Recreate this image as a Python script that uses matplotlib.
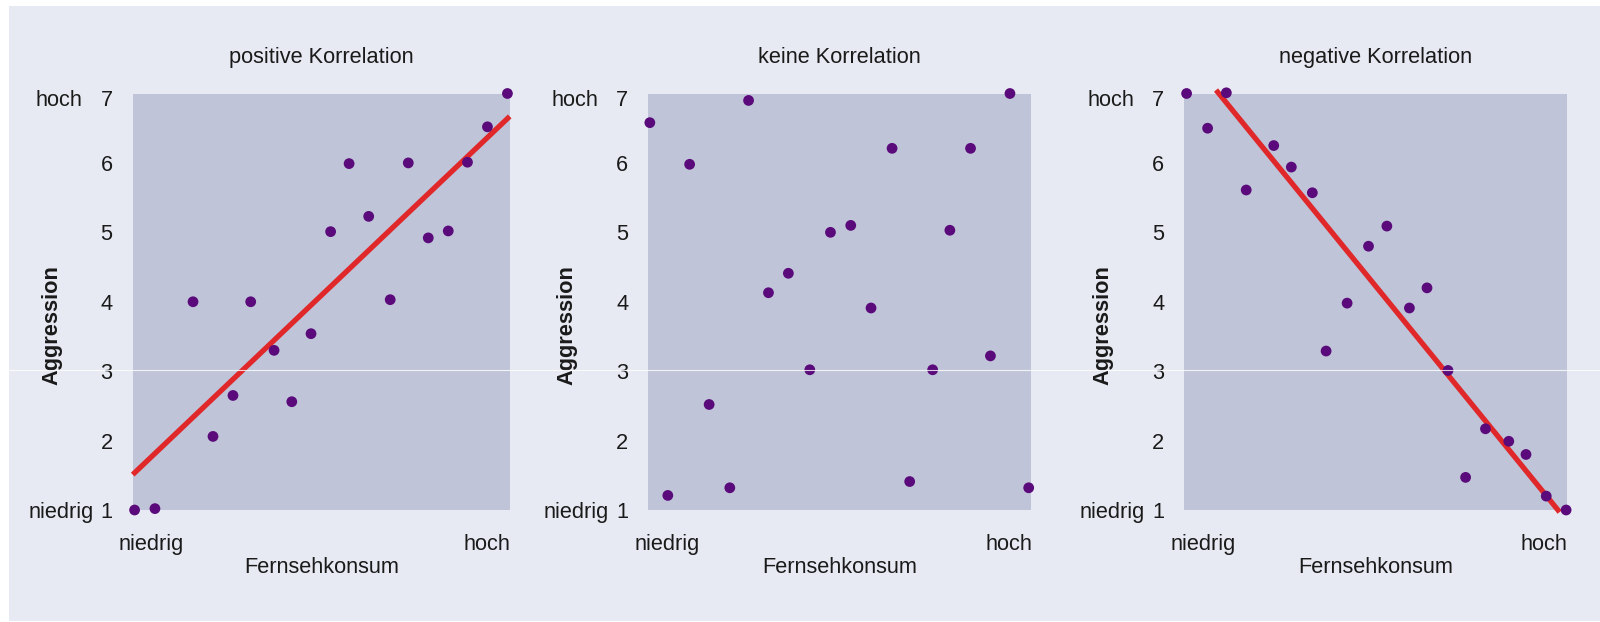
import numpy as np
import matplotlib
matplotlib.use("Agg")
import matplotlib.pyplot as plt
import matplotlib.transforms as mtransforms
from matplotlib import font_manager
from matplotlib.patches import Rectangle
from matplotlib.lines import Line2D

# pick a font that is close to the sans of the original
names = {f.name for f in font_manager.fontManager.ttflist}
font = "Liberation Sans" if "Liberation Sans" in names else "DejaVu Sans"
plt.rcParams["font.family"] = [font, "DejaVu Sans"]

# -------------------------------
# Data (x: 0 = niedrig, 1 = hoch Fernsehkonsum; y: Aggression 1..7)
# -------------------------------
titles = ["positive Korrelation", "keine Korrelation", "negative Korrelation"]

pos_x = [0.005, 0.059, 0.160, 0.213, 0.266, 0.313, 0.375, 0.422, 0.473, 0.525,
         0.574, 0.626, 0.683, 0.731, 0.784, 0.837, 0.888, 0.941, 0.994]
pos_y = [1.0, 1.02, 4.0, 2.06, 2.65, 4.0, 3.30, 2.56, 3.54, 5.01,
         5.99, 5.23, 4.03, 6.0, 4.92, 5.02, 6.01, 6.52, 7.0]
pos_fit_x = [0.0, 1.0]
pos_fit_y = [1.51, 6.67]

none_x = [0.004, 0.051, 0.108, 0.159, 0.213, 0.262, 0.314, 0.366, 0.422, 0.476,
          0.529, 0.582, 0.637, 0.683, 0.743, 0.788, 0.842, 0.894, 0.945, 0.994]
none_y = [6.58, 1.21, 5.98, 2.52, 1.32, 6.90, 4.13, 4.41, 3.02, 5.0,
          5.10, 3.91, 6.21, 1.41, 3.02, 5.03, 6.21, 3.22, 7.0, 1.32]

neg_x = [0.006, 0.061, 0.110, 0.162, 0.234, 0.280, 0.335, 0.371, 0.426, 0.482,
         0.530, 0.589, 0.635, 0.690, 0.736, 0.788, 0.849, 0.894, 0.947, 0.999]
neg_y = [7.0, 6.50, 7.01, 5.61, 6.25, 5.94, 5.57, 3.29, 3.98, 4.80,
         5.09, 3.91, 4.20, 3.01, 1.47, 2.17, 1.99, 1.80, 1.20, 1.0]
neg_fit_x = [0.083, 0.982]
neg_fit_y = [7.05, 0.97]

y_ticks = [1, 2, 3, 4, 5, 6, 7]
y_labels = ["1", "2", "3", "4", "5", "6", "7"]

BG = "#e7eaf2"
FACE = "#bfc4d8"
DOT = "#5a0a7a"
RED = "#e0282a"
INK = "#1a1a1a"
FS = 15.7

W, H = 1600, 622
fig = plt.figure(figsize=(W / 100, H / 100), dpi=100, facecolor="white")
fig.patches.append(Rectangle((9 / W, 1 / H), 1 - 9 / W, 615 / H,
                             transform=fig.transFigure, facecolor=BG,
                             edgecolor="none", zorder=-10))

# axes boxes in pixels: left, right
boxes = [(132.7, 509.7), (648.3, 1031.0), (1184.3, 1566.5)]
top_px, bot_px = 93.5, 510.0

series = [(pos_x, pos_y, (pos_fit_x, pos_fit_y)),
          (none_x, none_y, None),
          (neg_x, neg_y, (neg_fit_x, neg_fit_y))]

# the top tick label sits a few pixels low in the original
shift_down = mtransforms.ScaledTranslation(0, -4 / 100, fig.dpi_scale_trans)

for (l, r), title, (xs, ys, fit) in zip(boxes, titles, series):
    ax = fig.add_axes([l / W, 1 - bot_px / H, (r - l) / W, (bot_px - top_px) / H])
    ax.set_facecolor(FACE)
    ax.set_xlim(0, 1)
    ax.set_ylim(1, 7)
    for s in ax.spines.values():
        s.set_visible(False)
    ax.set_xticks([])
    ax.set_yticks(y_ticks)
    ax.set_yticklabels(y_labels, fontsize=FS, color=INK)
    ax.tick_params(axis="y", length=0, pad=14.5)
    top_lbl = ax.yaxis.get_major_ticks()[-1].label1
    top_lbl.set_transform(top_lbl.get_transform() + shift_down)

    if fit is not None:
        ax.plot(fit[0], fit[1], color=RED, lw=3.8, solid_capstyle="butt",
                clip_on=False, zorder=3)
    ax.scatter(xs, ys, s=60, color=DOT, edgecolors="none", clip_on=False, zorder=4)

    ax.set_title(title, fontsize=FS, color=INK, pad=22)

    # end labels on the y axis
    ax.annotate("hoch", xy=(0, 7), xycoords=("axes fraction", "data"),
                xytext=(-50, -4), textcoords="offset pixels",
                ha="right", va="center_baseline", fontsize=FS, color=INK)
    ax.annotate("niedrig", xy=(0, 1), xycoords=("axes fraction", "data"),
                xytext=(-39, 0), textcoords="offset pixels",
                ha="right", va="center_baseline", fontsize=FS, color=INK)
    # end labels on the x axis
    ax.annotate("niedrig", xy=(0, 0), xycoords="axes fraction",
                xytext=(-14, -40), textcoords="offset pixels",
                ha="left", va="baseline", fontsize=FS, color=INK)
    ax.annotate("hoch", xy=(1, 0), xycoords="axes fraction",
                xytext=(1, -40), textcoords="offset pixels",
                ha="right", va="baseline", fontsize=FS, color=INK)
    ax.annotate("Fernsehkonsum", xy=(0.5, 0), xycoords="axes fraction",
                xytext=(0, -63), textcoords="offset pixels",
                ha="center", va="baseline", fontsize=FS, color=INK)
    ax.annotate("Aggression", xy=(0, 0.444), xycoords="axes fraction",
                xytext=(-81, 0), textcoords="offset pixels",
                ha="center", va="center", rotation=90, fontsize=FS,
                fontweight="bold", color=INK)

# thin light line running across the whole figure at Aggression = 3
fig.lines.append(Line2D([9 / W, 1], [1 - 369.5 / H, 1 - 369.5 / H],
                        transform=fig.transFigure, color="white", lw=0.8,
                        alpha=0.8, zorder=10))

fig.savefig("out.png", dpi=100, facecolor=fig.get_facecolor())
